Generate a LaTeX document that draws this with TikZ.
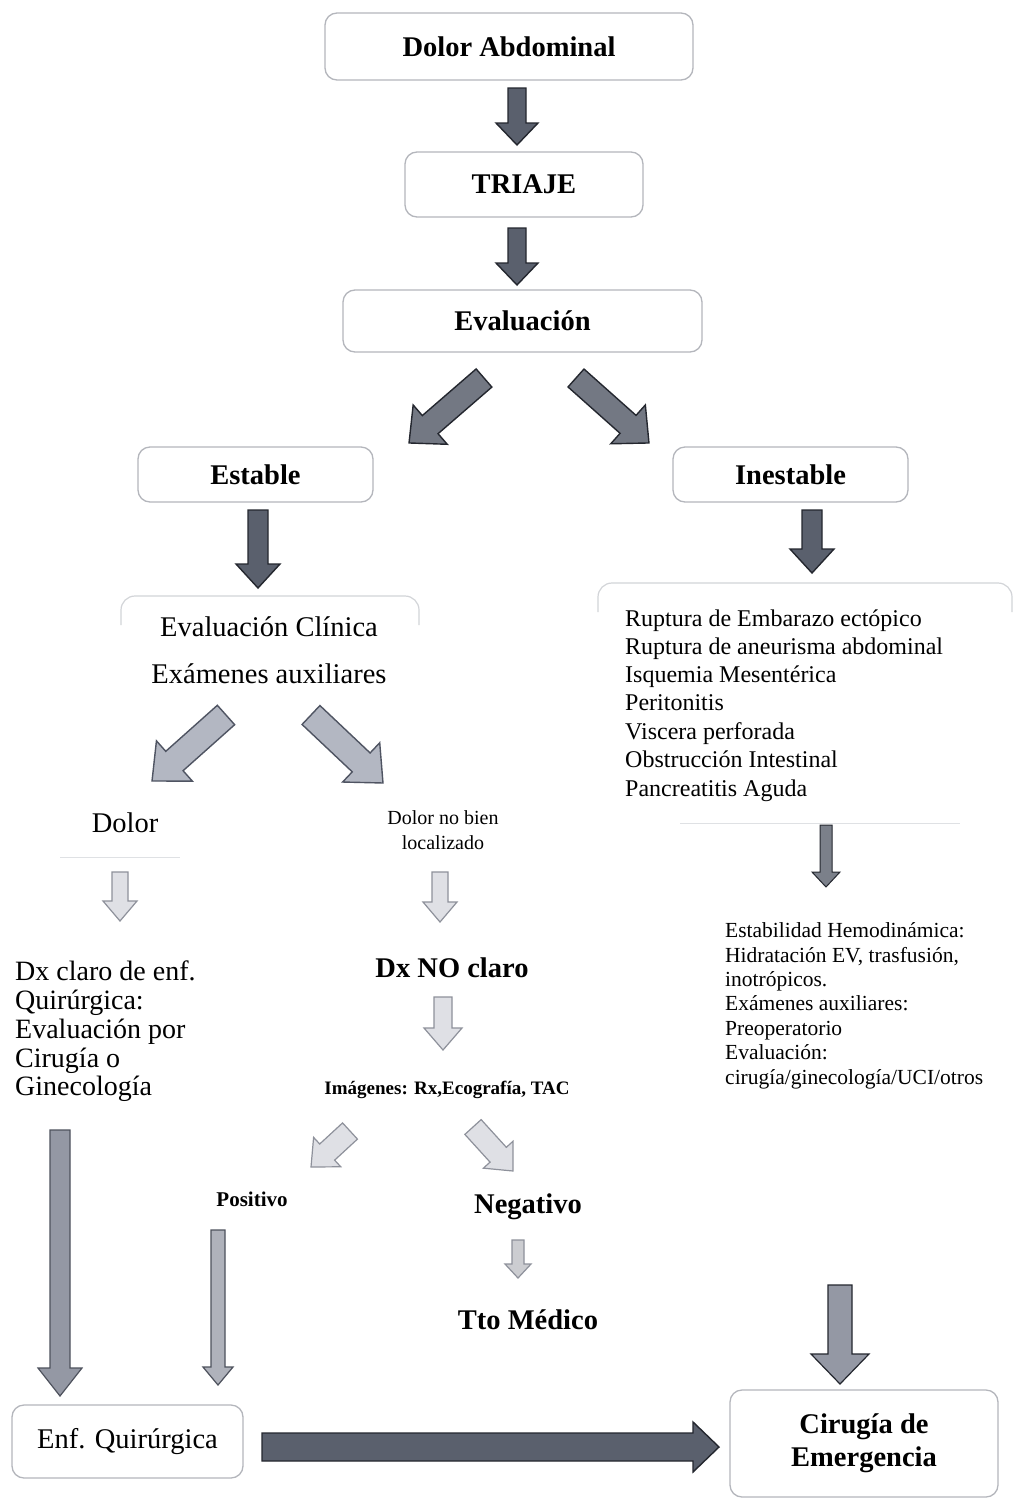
\documentclass[tikz,border=0pt]{standalone}
\usepackage{fontspec}
\setmainfont{Liberation Serif}
\usetikzlibrary{calc}

\definecolor{boxgray}{HTML}{B4B6BC}
\definecolor{faintgray}{HTML}{D2D4D8}
\definecolor{darkfill}{HTML}{5A606D}
\definecolor{darkline}{HTML}{24272F}
\definecolor{midfill}{HTML}{B3B7C2}
\definecolor{midline}{HTML}{4F5462}
\definecolor{lightfill}{HTML}{DFE0E5}
\definecolor{lightline}{HTML}{8E919B}
\definecolor{stripefill}{HTML}{9498A4}
\definecolor{stripeline}{HTML}{4E525D}

% block arrow: [style]{from}{to}{shaft half width}{head half width}{head length}
\newcommand\blockarrow[6][]{%
  \path let \p1=($(#3)-(#2)$) in
    \pgfextra{\pgfmathsetmacro\baang{atan2(\y1,\x1)}%
              \pgfmathsetmacro\balen{veclen(\x1,\y1)}%
              \xdef\baang{\baang}\xdef\balen{\balen}};
  \begin{scope}[shift={(#2)},rotate=\baang]
    \draw[#1] (0pt,#4pt) -- ({\balen pt-#6pt},#4pt) -- ({\balen pt-#6pt},#5pt)
      -- (\balen pt,0pt) -- ({\balen pt-#6pt},-#5pt) -- ({\balen pt-#6pt},-#4pt)
      -- (0pt,-#4pt) -- cycle;
  \end{scope}}

\newcommand\hfont{\fontsize{28.5}{33}\selectfont\bfseries}
\newcommand\rfont{\fontsize{28.5}{33}\selectfont}

\tikzset{
  box/.style={draw=boxgray, line width=1.3pt, rounded corners=12pt, fill=white,
    inner sep=0pt, align=center},
  txt/.style={inner sep=0pt, anchor=base},
  txtl/.style={inner sep=0pt, anchor=base west},
  darkarrow/.style={fill=darkfill, draw=darkline, line width=1.4pt, line join=miter},
  midarrow/.style={fill=midfill, draw=midline, line width=1.4pt},
  lightarrow/.style={fill=lightfill, draw=lightline, line width=1.2pt},
  stripearrow/.style={fill=stripefill, draw=stripeline, line width=1.2pt},
  edge/.style={draw=faintgray, line width=1.2pt, rounded corners=14pt},
}

\begin{document}
\begin{tikzpicture}[x=1pt,y=-1pt]
\useasboundingbox (0,0) rectangle (1014,1499);
\fill[white] (0,0) rectangle (1014,1499);

% main column boxes
\node[box, minimum width=368pt, minimum height=67pt, font=\hfont] (dolor) at (509,46.5) {Dolor Abdominal};
\node[box, minimum width=238pt, minimum height=65pt, font=\hfont] (triaje) at (524,184.5) {TRIAJE};
\node[box, minimum width=359pt, minimum height=62pt, font=\hfont] (evaluacion) at (522.5,321) {Evaluación};
\node[box, minimum width=235pt, minimum height=55pt, font=\hfont] (estable) at (255.5,474.5) {Estable};
\node[box, minimum width=235pt, minimum height=55pt, font=\hfont] (inestable) at (790.5,474.5) {Inestable};

% open-topped frames around the two lower blocks
\draw[edge] (121,625) -- (121,596) -- (419,596) -- (419,625);
\draw[edge] (598,612) -- (598,583) -- (1012,583) -- (1012,612);
\draw[faintgray!70, line width=1pt] (680,823) -- (960,823);
\draw[faintgray!70, line width=1pt] (60,857) -- (180,857);

% stable branch
\node[txt, font=\rfont] (evclin) at (269,636) {Evaluación Clínica};
\node[txt, font=\rfont] (examaux) at (269,683) {Exámenes auxiliares};
\node[txt, font=\rfont] (dolorloc) at (125,832) {Dolor};
\node[txt, font=\fontsize{20}{25}\selectfont] (dolornb1) at (443,824) {Dolor no bien};
\node[txt, font=\fontsize{20}{25}\selectfont] (dolornb2) at (443,849) {localizado};

\node[txtl, font=\fontsize{28}{29}\selectfont] (dx1) at (15,980) {Dx claro de enf.};
\node[txtl, font=\fontsize{28}{29}\selectfont] (dx2) at (15,1009) {Quirúrgica:};
\node[txtl, font=\fontsize{28}{29}\selectfont] (dx3) at (15,1038) {Evaluación por};
\node[txtl, font=\fontsize{28}{29}\selectfont] (dx4) at (15,1067) {Cirugía o};
\node[txtl, font=\fontsize{28}{29}\selectfont] (dx5) at (15,1095) {Ginecología};

\node[txt, font=\hfont] (dxno) at (452,977) {Dx NO claro};
\node[txt, font=\fontsize{19}{22}\selectfont\bfseries] (imagenes) at (447,1094) {Imágenes: Rx,Ecografía, TAC};
\node[txt, font=\fontsize{21}{24}\selectfont\bfseries] (positivo) at (252,1206) {Positivo};
\node[txt, font=\hfont] (negativo) at (528,1213) {Negativo};
\node[txt, font=\hfont] (tto) at (528,1329) {Tto Médico};

% unstable branch
\node[txtl, font=\fontsize{24}{28}\selectfont] (rup1) at (625,626) {Ruptura de Embarazo ectópico};
\node[txtl, font=\fontsize{24}{28}\selectfont] (rup2) at (625,654) {Ruptura de aneurisma abdominal};
\node[txtl, font=\fontsize{24}{28}\selectfont] (rup3) at (625,682) {Isquemia Mesentérica};
\node[txtl, font=\fontsize{24}{28}\selectfont] (rup4) at (625,710) {Peritonitis};
\node[txtl, font=\fontsize{24}{28}\selectfont] (rup5) at (625,739) {Viscera perforada};
\node[txtl, font=\fontsize{24}{28}\selectfont] (rup6) at (625,767) {Obstrucción Intestinal};
\node[txtl, font=\fontsize{24}{28}\selectfont] (rup7) at (625,796) {Pancreatitis Aguda};

\node[txtl, font=\fontsize{21.5}{24}\selectfont] (est1) at (725,937) {Estabilidad Hemodinámica:};
\node[txtl, font=\fontsize{21.5}{24}\selectfont] (est2) at (725,962) {Hidratación EV, trasfusión,};
\node[txtl, font=\fontsize{21.5}{24}\selectfont] (est3) at (725,986) {inotrópicos.};
\node[txtl, font=\fontsize{21.5}{24}\selectfont] (est4) at (725,1010) {Exámenes auxiliares:};
\node[txtl, font=\fontsize{21.5}{24}\selectfont] (est5) at (725,1035) {Preoperatorio};
\node[txtl, font=\fontsize{21.5}{24}\selectfont] (est6) at (725,1059) {Evaluación:};
\node[txtl, font=\fontsize{21.5}{24}\selectfont] (est7) at (725,1084) {cirugía/ginecología/UCI/otros};

% end boxes
\node[box, minimum width=231pt, minimum height=73pt, font=\rfont] (enfq) at (127.5,1441.5) {Enf. Quirúrgica};
\node[box, minimum width=268pt, minimum height=107pt, font=\hfont] (cirugia) at (864,1443.5) {Cirugía de\\Emergencia};

% arrow end points
\coordinate (a1s) at (517,88);   \coordinate (a1e) at (517,145);
\coordinate (a2s) at (517,228);  \coordinate (a2e) at (517,285);
\coordinate (dls) at (484,378);  \coordinate (dle) at (409,443);
\coordinate (drs) at (576,378);  \coordinate (dre) at (649,443);
\coordinate (ests) at (258,510); \coordinate (este) at (258,588);
\coordinate (ins) at (812,510);  \coordinate (ine) at (812,573);
\coordinate (cls) at (226,715);  \coordinate (cle) at (152,781);
\coordinate (crs) at (311,715);  \coordinate (cre) at (383,783);
\coordinate (lds) at (120,872);  \coordinate (lde) at (120,921);
\coordinate (rds) at (440,872);  \coordinate (rde) at (440,922);
\coordinate (ths) at (826,825);  \coordinate (the) at (826,887);
\coordinate (nds) at (443,997);  \coordinate (nde) at (443,1050);
\coordinate (pls) at (350,1131); \coordinate (ple) at (311,1167);
\coordinate (prs) at (473,1127); \coordinate (pre) at (513,1171);
\coordinate (lls) at (60,1130);  \coordinate (lle) at (60,1396);
\coordinate (pos) at (218,1230); \coordinate (poe) at (218,1385);
\coordinate (ngs) at (518,1240); \coordinate (nge) at (518,1278);
\coordinate (cgs) at (840,1285); \coordinate (cge) at (840,1384);
\coordinate (hs) at (262,1447);  \coordinate (he) at (719,1447);

% arrows
\blockarrow[darkarrow]{a1s}{a1e}{9}{21}{22}
\blockarrow[darkarrow]{a2s}{a2e}{9}{21}{22}
\blockarrow[darkarrow, fill=darkfill!85]{dls}{dle}{12}{26}{28}
\blockarrow[darkarrow, fill=darkfill!85]{drs}{dre}{12}{26}{28}
\blockarrow[darkarrow]{ests}{este}{10}{22}{24}
\blockarrow[darkarrow]{ins}{ine}{10}{22}{24}
\blockarrow[midarrow]{cls}{cle}{13}{27}{30}
\blockarrow[midarrow]{crs}{cre}{13}{27}{30}
\blockarrow[lightarrow]{lds}{lde}{8}{17}{20}
\blockarrow[lightarrow]{rds}{rde}{8}{17}{20}
\blockarrow[darkarrow, line width=1pt, fill=darkfill!80]{ths}{the}{6}{14}{15}
\blockarrow[lightarrow]{nds}{nde}{9}{19}{22}
\blockarrow[lightarrow]{pls}{ple}{11}{20}{22}
\blockarrow[lightarrow]{prs}{pre}{11}{20}{22}
\blockarrow[stripearrow]{lls}{lle}{10}{22}{28}
\blockarrow[stripearrow, fill=stripefill!75]{pos}{poe}{7}{15}{18}
\blockarrow[lightarrow, fill=lightfill!80!gray]{ngs}{nge}{6}{13}{14}
\blockarrow[stripearrow, draw=darkline]{cgs}{cge}{12}{29}{30}
\blockarrow[darkarrow]{hs}{he}{14}{25}{26}
\end{tikzpicture}
\end{document}
